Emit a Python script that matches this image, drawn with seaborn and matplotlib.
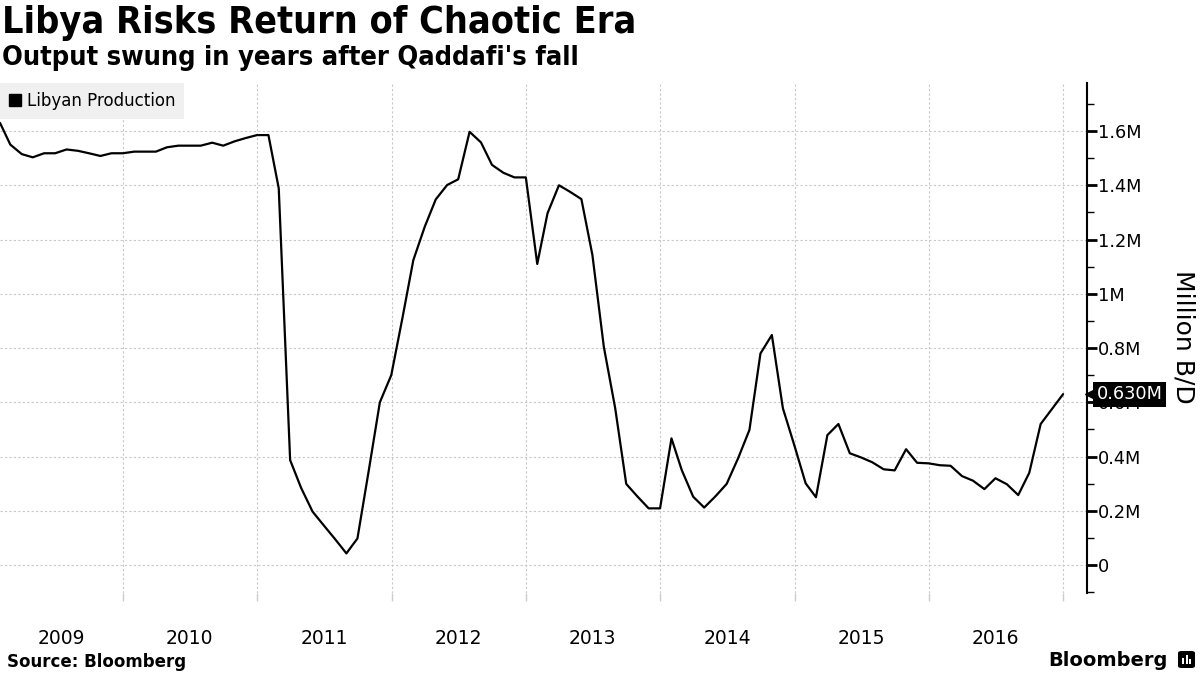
import numpy as np
import pandas as pd
import seaborn as sns
import matplotlib.pyplot as plt
import matplotlib.dates as mdates
import matplotlib.ticker as mticker
import matplotlib.transforms as mtransforms
from matplotlib.lines import Line2D
from matplotlib.patches import FancyBboxPatch, Rectangle

# Libyan crude production, million barrels per day, month-end readings
months = pd.date_range("2009-01-31", periods=96, freq="ME")
output_2009 = [1.630, 1.550, 1.515, 1.503, 1.518, 1.518, 1.532, 1.527, 1.518, 1.508, 1.518, 1.518]
output_2010 = [1.524, 1.524, 1.524, 1.540, 1.546, 1.546, 1.546, 1.557, 1.546, 1.562, 1.574, 1.585]
output_2011 = [1.585, 1.389, 0.387, 0.284, 0.197, 0.147, 0.096, 0.043, 0.098, 0.350, 0.600, 0.700]
output_2012 = [0.915, 1.124, 1.247, 1.348, 1.401, 1.422, 1.597, 1.558, 1.475, 1.446, 1.429, 1.429]
output_2013 = [1.110, 1.297, 1.400, 1.376, 1.349, 1.143, 0.805, 0.578, 0.299, 0.252, 0.209, 0.209]
output_2014 = [0.467, 0.350, 0.252, 0.212, 0.254, 0.299, 0.393, 0.498, 0.780, 0.848, 0.578, 0.442]
output_2015 = [0.301, 0.250, 0.479, 0.520, 0.412, 0.397, 0.379, 0.353, 0.349, 0.427, 0.377, 0.375]
output_2016 = [0.368, 0.366, 0.328, 0.311, 0.280, 0.320, 0.298, 0.258, 0.340, 0.520, 0.574, 0.630]

years = list(range(2009, 2017))
y_ticks = [0, 0.2, 0.4, 0.6, 0.8, 1.0, 1.2, 1.4, 1.6]
y_labels = ["0", "0.2M", "0.4M", "0.6M", "0.8M", "1M", "1.2M", "1.4M", "1.6M"]

values = (output_2009 + output_2010 + output_2011 + output_2012
          + output_2013 + output_2014 + output_2015 + output_2016)
df = pd.DataFrame({"date": months, "output": values})

sns.set_theme(style="white")
plt.rcParams["font.family"] = ["DejaVu Sans"]
plt.rcParams.update({"text.color": "black", "axes.labelcolor": "black",
                     "xtick.color": "black", "ytick.color": "black"})

fig = plt.figure(figsize=(12, 6.75), dpi=100)
ax = fig.add_axes([0, 1 - 593 / 675, 1087 / 1200, 510 / 675])

sns.lineplot(data=df, x="date", y="output", color="black", linewidth=1.6, ax=ax, legend=False)

x0, x1 = pd.Timestamp("2009-01-31"), pd.Timestamp("2017-03-06")
ax.set_xlim(x0, x1)
ax.set_ylim(-0.103, 1.777)
ax.set_xlabel("")
ax.set_ylabel("")

# x axis: gridlines at year starts, year labels centred on the visible part of each year
label_pos = [mdates.date2num(pd.Timestamp(f"{y}-07-01")) for y in years]
label_pos[0] = (mdates.date2num(x0) + mdates.date2num(pd.Timestamp("2010-01-01"))) / 2
ax.xaxis.set_major_locator(mdates.YearLocator())
ax.xaxis.set_major_formatter(mticker.NullFormatter())
ax.xaxis.set_minor_locator(mticker.FixedLocator(label_pos))
ax.xaxis.set_minor_formatter(mticker.FixedFormatter([str(y) for y in years]))
ax.tick_params(axis="x", which="major", length=6, width=1, color="#cccccc", direction="out", bottom=True)
ax.tick_params(axis="x", which="minor", length=0, pad=26, labelsize=13.5, labelcolor="black")

# y axis on the right
ax.yaxis.tick_right()
ax.set_yticks(y_ticks, y_labels)
ax.set_yticks(np.arange(-0.1, 1.75, 0.2), minor=True)
ax.tick_params(axis="y", which="major", length=7, width=2, color="black", pad=1,
               labelsize=12.8, labelcolor="black", right=True, left=False, direction="out")
ax.tick_params(axis="y", which="minor", length=5, width=1, color="black", right=True, left=False)

ax.grid(True, which="major", color="#c8c8c8", linestyle=(0, (2, 2)), linewidth=0.8)
for side in ["top", "left", "bottom"]:
    ax.spines[side].set_visible(False)
ax.spines["right"].set_color("black")
ax.spines["right"].set_linewidth(1.5)

# last value tag
last = values[-1]
trans = mtransforms.blended_transform_factory(ax.transAxes, ax.transData)
ax.plot([1], [last], marker="<", color="black", markersize=8, clip_on=False,
        transform=mtransforms.offset_copy(trans, fig, x=4, units="dots"))
ax.annotate(f"{last:.3f}M", xy=(1, last), xycoords=trans, xytext=(7, 0),
            textcoords="offset points", ha="left", va="center", color="white",
            fontsize=12.8, annotation_clip=False,
            bbox=dict(boxstyle="square,pad=0.2", fc="black", ec="none"))

# legend
handle = Line2D([], [], marker="s", color="black", linestyle="none", markersize=8.5)
leg = ax.legend([handle], ["Libyan Production"], loc="upper left", bbox_to_anchor=(0, 1),
                borderaxespad=0, frameon=True, fancybox=False, facecolor="#f0f0f0",
                edgecolor="none", framealpha=1, fontsize=12, handlelength=0.75,
                handletextpad=0.3, borderpad=0.55, labelcolor="black")

fig.text(1184 / 1200, 1 - 337 / 675, "Million B/D", rotation=270, ha="center", va="center", fontsize=18)

fig.text(0.002, 1 - 5 / 675, "Libya Risks Return of Chaotic Era", ha="left", va="top",
         fontsize=27, fontweight="bold", fontstretch="condensed")
fig.text(0.002, 1 - 45 / 675, "Output swung in years after Qaddafi's fall", ha="left", va="top",
         fontsize=19.5, fontweight="bold", fontstretch="condensed")
fig.text(7 / 1200, 8 / 675, "Source: Bloomberg", ha="left", va="baseline", fontsize=12, fontweight="bold")
fig.text(1168 / 1200, 9 / 675, "Bloomberg", ha="right", va="baseline", fontsize=14, fontweight="bold")

# small logo mark next to the wordmark
fig.patches.append(FancyBboxPatch((1178 / 1200, 7 / 675), 17 / 1200, 17 / 675, boxstyle="round,pad=0,rounding_size=0.003",
                                  transform=fig.transFigure, fc="black", ec="none"))
for bx, bh in [(1182, 6), (1185.5, 9), (1189, 5)]:
    fig.patches.append(Rectangle((bx / 1200, 11 / 675), 2 / 1200, bh / 675,
                                 transform=fig.transFigure, fc="white", ec="none"))

fig.savefig("out.png", dpi=100, facecolor="white")
